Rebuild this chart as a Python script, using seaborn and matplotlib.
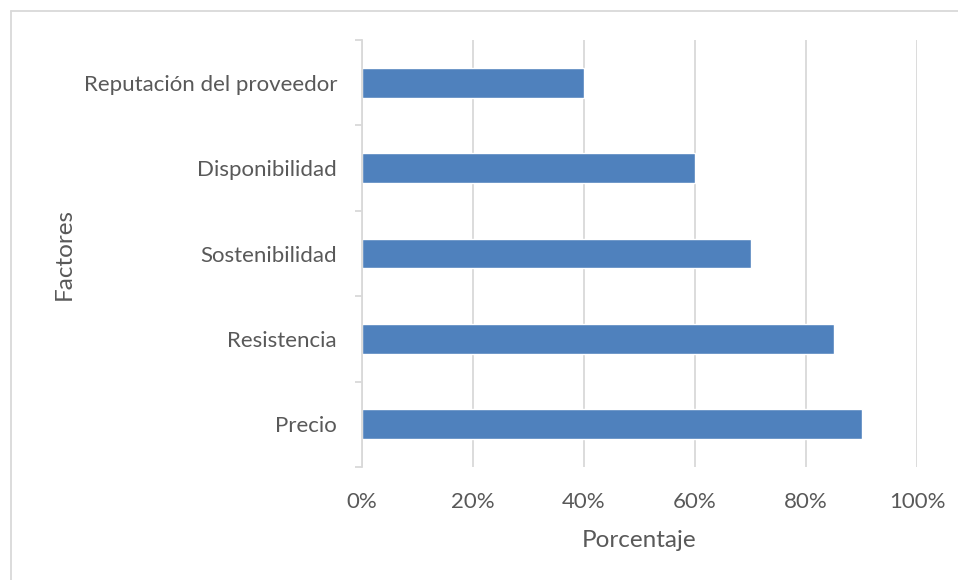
import matplotlib
matplotlib.use("Agg")
import matplotlib.pyplot as plt
from matplotlib.lines import Line2D
from matplotlib.ticker import PercentFormatter, FixedLocator
import seaborn as sns
import pandas as pd

categories = ["Reputación del proveedor", "Disponibilidad", "Sostenibilidad", "Resistencia", "Precio"]
values = [0.40, 0.60, 0.70, 0.85, 0.90]
xticks = [0, 0.2, 0.4, 0.6, 0.8, 1.0]

sns.set_theme(style="white")
plt.rcParams['font.family'] = ['Lato', 'DejaVu Sans']

df = pd.DataFrame({"Factores": categories, "Porcentaje": values})

W, H = 958, 580
fig = plt.figure(figsize=(W / 100, H / 100), dpi=100)
ax = fig.add_axes([362 / W, 1 - 467 / H, (917 - 362) / W, (467 - 40) / H])

text_c = "#595959"
grid_c = "#D9D9D9"

sns.barplot(data=df, x="Porcentaje", y="Factores", order=categories, color="#4F81BD",
            width=0.35, saturation=1, ax=ax, zorder=3)

ax.set_xlim(0, 1.0)
ax.set_ylim(len(categories) - 0.5, -0.5)
ax.set_xticks(xticks)
ax.xaxis.set_major_formatter(PercentFormatter(1.0, decimals=0))
ax.grid(axis="x", color=grid_c, linewidth=1.3, zorder=0)
ax.grid(axis="y", visible=False)

for s in ["top", "right", "bottom"]:
    ax.spines[s].set_visible(False)
ax.spines["left"].set_color(grid_c)
ax.spines["left"].set_linewidth(1.3)
ax.spines["left"].set_zorder(4)

ax.tick_params(axis="x", length=0, pad=18, labelsize=16, labelcolor=text_c)
ax.tick_params(axis="y", which="major", left=True, length=0, pad=18, labelsize=16, labelcolor=text_c)
ax.yaxis.set_minor_locator(FixedLocator([i - 0.5 for i in range(len(categories) + 1)]))
ax.tick_params(axis="y", which="minor", left=True, length=5, width=1.3, color=grid_c)

ax.set_xlabel("Porcentaje", fontsize=17.5, color=text_c, labelpad=13)
ax.set_ylabel("Factores", fontsize=17.5, color=text_c, labelpad=6)

# partial frame (top and left edges)
fig.add_artist(Line2D([11 / W, 11 / W], [0, 1 - 10.5 / H], transform=fig.transFigure,
                      color=grid_c, linewidth=1.3))
fig.add_artist(Line2D([11 / W, 1], [1 - 10.5 / H, 1 - 10.5 / H], transform=fig.transFigure,
                      color=grid_c, linewidth=1.3))

fig.savefig("out.png", dpi=100)
